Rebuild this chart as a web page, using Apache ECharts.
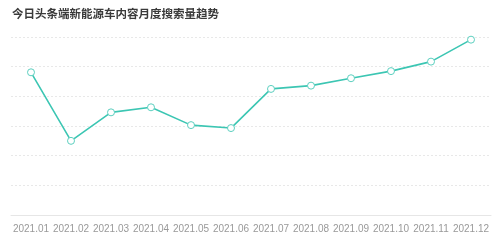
<!DOCTYPE html>
<html><head><meta charset="utf-8">
<script src="https://cdn.jsdelivr.net/npm/echarts@6/dist/echarts.min.js"></script>
<style>html,body{margin:0;padding:0;background:#fff;}#c{width:500px;height:243px;}</style>
</head><body><div id="c"></div>
<script>
var title = '今日头条端新能源车内容月度搜索量趋势';
var months = ['2021.01','2021.02','2021.03','2021.04','2021.05','2021.06','2021.07','2021.08','2021.09','2021.10','2021.11','2021.12'];
var searchIndex = [4810, 2500, 3460, 3630, 3030, 2930, 4250, 4360, 4610, 4850, 5170, 5910];

var chart = echarts.init(document.getElementById('c'), null, {renderer:'canvas'});
chart.setOption({
  animation: false,
  title: {text: title, left: 7, top: 3, textStyle: {fontSize: 11.5, fontWeight: 600, color: '#3a3a3a', fontFamily: 'Noto Sans CJK SC'}},
  grid: {left: 11, right: 9, top: 37, bottom: 28, containLabel: false},
  xAxis: {
    type: 'category', data: months, boundaryGap: true,
    axisLine: {lineStyle: {color: '#e6e6e6'}},
    axisTick: {show: false},
    axisLabel: {interval: 0, color: '#999', fontSize: 10, margin: 9, fontFamily: 'Liberation Sans'}
  },
  yAxis: {
    type: 'value', min: 0, max: 6000, interval: 1000,
    axisLine: {show: false}, axisTick: {show: false}, axisLabel: {show: false},
    splitLine: {lineStyle: {color: '#e8e8e8', type: [2, 2]}}
  },
  series: [{
    type: 'line', data: searchIndex,
    symbol: 'circle', symbolSize: 7,
    lineStyle: {color: '#3cc6b3', width: 1.6},
    itemStyle: {color: '#ffffff', borderColor: '#5ccfbf', borderWidth: 1}
  }]
});
</script></body></html>
